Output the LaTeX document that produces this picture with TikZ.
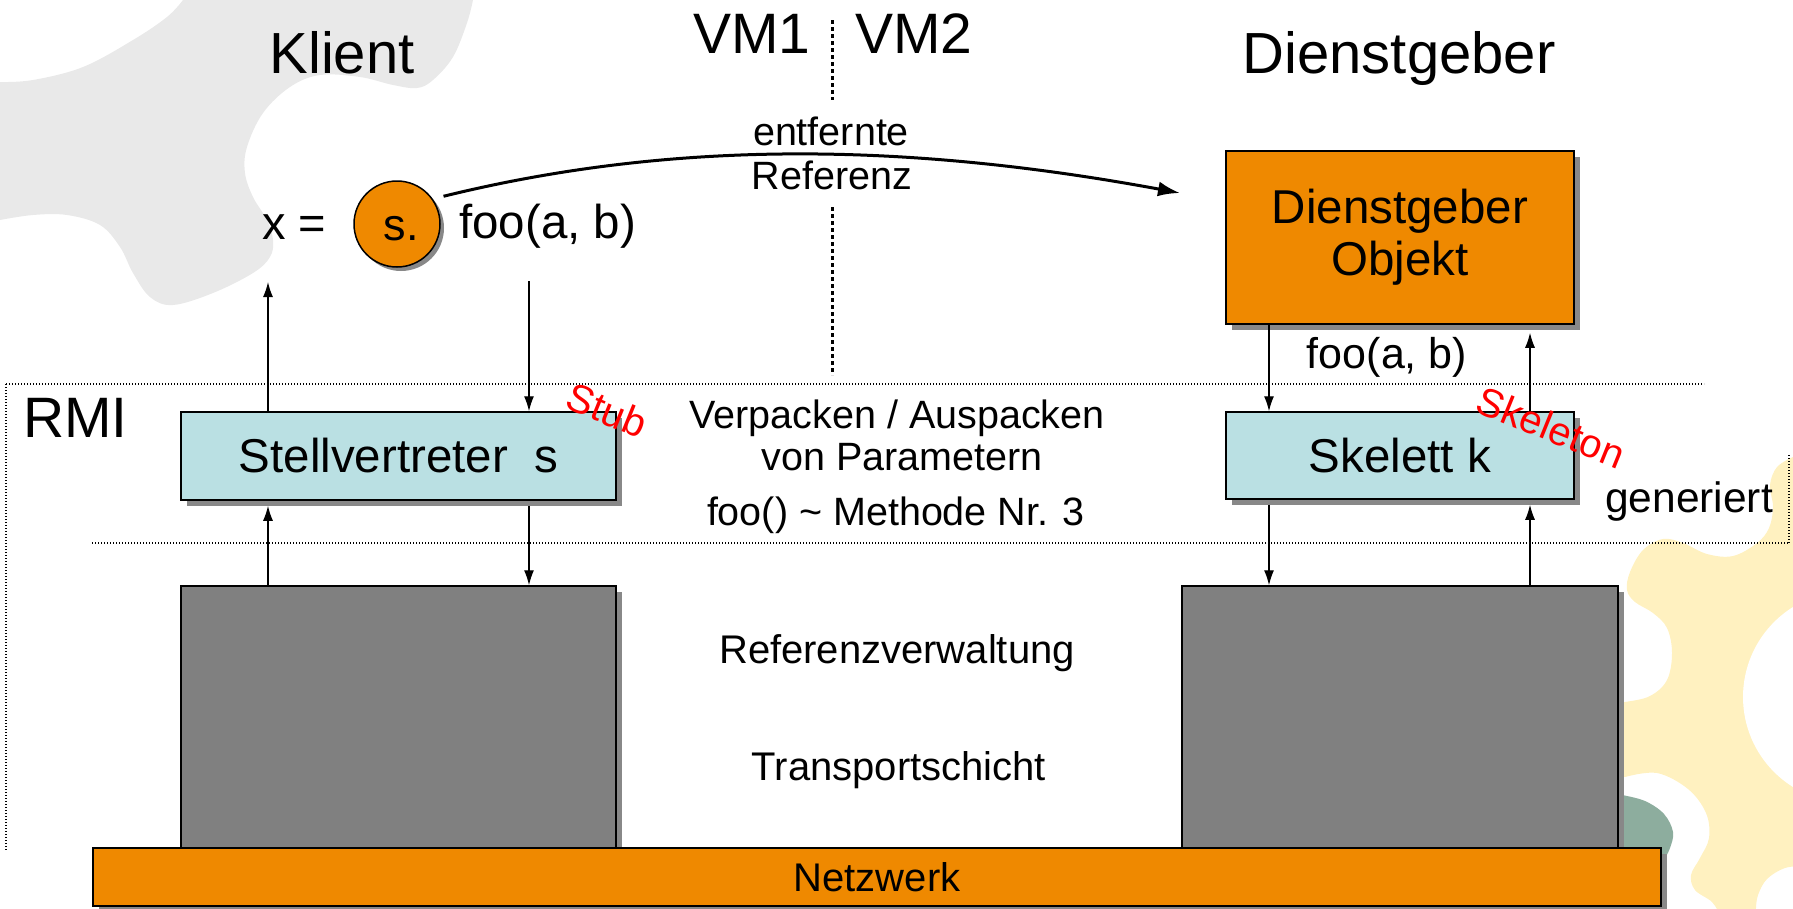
\documentclass[tikz,border=0pt]{standalone}
\usepackage{fontspec}
\setmainfont{Liberation Sans}
\usetikzlibrary{arrows.meta,shadows}
\definecolor{orng}{RGB}{239,137,0}
\definecolor{lblue}{RGB}{186,224,227}
\definecolor{boxgray}{RGB}{128,128,128}
\definecolor{shadowgray}{RGB}{136,136,136}
\definecolor{geargray}{RGB}{233,233,233}
\definecolor{gearyellow}{RGB}{255,241,192}
\definecolor{geargreen}{RGB}{141,173,158}
\definecolor{redtext}{RGB}{255,0,0}
\newcommand{\fsz}[1]{\fontsize{#1}{#1}\selectfont}
\begin{document}
\begin{tikzpicture}[x=1pt,y=-1pt,
  txt/.style={inner sep=0pt, text=black},
  box/.style={draw=black, line width=1.5pt, inner sep=0pt,
    drop shadow={shadow xshift=6pt, shadow yshift=-6pt, opacity=1, fill=shadowgray}},
  obox/.style={box, fill=orng},
  bbox/.style={box, fill=lblue},
  gbox/.style={box, fill=boxgray},
  arr/.style={line width=1.3pt, -{Latex[length=15pt,width=10pt]}},
  bigarr/.style={line width=3pt, -{Latex[length=22pt,width=15pt]}},
  rmidots/.style={line width=1.2pt, dash pattern=on 1.2pt off 1.8pt},
  vmdots/.style={line width=3pt, dash pattern=on 4pt off 3pt},
  redtxt/.style={txt, text=redtext, font={\fsz{40}}},
]
\useasboundingbox (0,0) rectangle (1793,908);
% background gears
\begin{scope}
\clip (0,0) rectangle (1793,908);
\fill[geargray] (-10,83) -- plot[smooth,tension=0.6] coordinates {(0,82) (33,80) (83,67) (133,40) (167,17) (183,0)}
  -- (185,-10) -- (475,-10)
  -- plot[smooth,tension=0.6] coordinates {(473,0) (467,23) (453,57) (433,80) (417,88) (393,85) (360,77) (320,75) (290,87) (263,113) (247,147) (245,173) (253,197) (267,220) (273,240) (270,257) (253,273) (213,293) (173,305) (150,297) (133,273) (120,247) (100,225) (67,215) (33,215) (0,220)}
  -- (-10,221) -- cycle;
\fill[gearyellow] (1805,455) -- plot[smooth,tension=0.6] coordinates {(1793,457) (1777,467) (1770,485) (1773,507) (1769,528) (1757,543) (1733,556) (1707,554) (1683,543) (1663,539) (1643,550) (1630,572) (1627,590) (1635,602) (1653,613) (1667,628) (1672,653) (1667,680) (1650,696) (1625,702) (1605,704)}
  -- (1605,776)
  -- plot[smooth,tension=0.6] coordinates {(1625,777) (1657,773) (1688,789) (1706,813) (1709,838) (1700,858) (1691,875) (1695,890) (1712,902) (1720,915)}
  -- (1755,915)
  -- plot[smooth,tension=0.6] coordinates {(1756,908) (1758,895) (1767,879) (1785,868) (1805,866)}
  -- cycle;
\fill[white] (1849,697) circle[radius=106pt];
\fill[geargreen] (1610,795) -- plot[smooth,tension=0.6] coordinates {(1622,795) (1645,801) (1664,814) (1673,832) (1670,848) (1664,860)} -- (1610,860) -- cycle;
\end{scope}
% dotted lines
\draw[rmidots] (6,384) -- (1704,384);
\draw[rmidots] (6,384) -- (6,850);
\draw[rmidots] (92,543) -- (1789,543);
\draw[rmidots] (1789,455) -- (1789,543);
\draw[vmdots] (832,20) -- (832,100);
\draw[vmdots] (832,207) -- (832,375);
% boxes
\node[gbox, minimum width=435pt, minimum height=262pt] (lgrey) at (398.5,717) {};
\node[gbox, minimum width=436pt, minimum height=262pt] (rgrey) at (1400,717) {};
\node[obox, minimum width=1568pt, minimum height=58pt, font={\fsz{40}}] (netz) at (877,877) {Netzwerk};
\node[bbox, minimum width=435pt, minimum height=88pt, font={\fsz{47.5}}] (stell) at (398.5,456) {Stellvertreter\ \ s};
\node[bbox, minimum width=348pt, minimum height=87pt, font={\fsz{47.5}}] (skel) at (1400,455.5) {Skelett k};
\node[obox, minimum width=348pt, minimum height=173pt, align=center, font={\fontsize{47.5}{52}\selectfont}] (dobj) at (1400,237.5) {Dienstgeber\\Objekt};
\node[circle, draw=black, line width=1.5pt, fill=orng, minimum size=86pt, inner sep=0pt,
  drop shadow={shadow xshift=4pt, shadow yshift=-4pt, opacity=1, fill=shadowgray},
  font={\fsz{45}}] (s) at (397,224) {\raisebox{-16pt}[0pt][0pt]{\hspace{8pt}s.}};
% titles and labels
\node[txt, anchor=base, font={\fsz{58}}] (klient) at (342,73) {Klient};
\node[txt, anchor=base, font={\fsz{57}}] (vm1) at (752,53) {VM1};
\node[txt, anchor=base, font={\fsz{57}}] (vm2) at (914,53) {VM2};
\node[txt, anchor=base, font={\fsz{58}}] (dtitle) at (1399,73) {Dienstgeber};
\node[txt, anchor=base, font={\fsz{39.5}}] (entf) at (831,145) {entfernte};
\node[txt, anchor=base, font={\fsz{39.5}}] (refz) at (832,189) {Referenz};
\node[txt, anchor=base west, font={\fsz{47}}] (xeq) at (262,239) {x =};
\node[txt, anchor=base west, font={\fsz{47.5}}] (foocl) at (459,238) {foo(a, b)};
\node[txt, anchor=base, font={\fsz{43}}] (foosv) at (1387,368) {foo(a, b)};
\node[txt, anchor=base west, font={\fsz{57}}] (rmi) at (23,437) {RMI};
\node[txt, anchor=base, font={\fsz{39.5}}] (verp) at (897,428) {Verpacken / Auspacken};
\node[txt, anchor=base, font={\fsz{39.5}}] (vonp) at (902,470) {von Parametern};
\node[txt, anchor=base, font={\fsz{39.5}}] (meth) at (896,525) {foo() \char`\~{} Methode Nr. 3};
\node[txt, anchor=base west, font={\fsz{42.5}}] (gen) at (1605,512) {generiert};
\node[txt, anchor=base, font={\fsz{40}}] (refv) at (897,663) {Referenzverwaltung};
\node[txt, anchor=base, font={\fsz{40}}] (trans) at (899,780) {Transportschicht};
\node[redtxt, rotate=-22] (stub) at (607,410) {Stub};
\node[redtxt, rotate=-22] (skeleton) at (1551,427) {Skeleton};
% connectors
\coordinate (xa) at (268,282);
\coordinate (fa) at (529,281);
\coordinate (sa) at (1269,0);
\coordinate (sb) at (1530,0);
\coordinate (reftip) at (1180,193);
\draw[bigarr, shorten <=11pt] (s.35) .. controls (668,141) and (899,141) .. (reftip);
\draw[arr] (stell.north -| xa) -- (xa);
\draw[arr] (fa) -- (stell.north -| fa);
\draw[arr, shorten >=5pt] (lgrey.north -| xa) -- (stell.south -| xa);
\draw[arr, shorten <=5pt] (stell.south -| fa) -- (lgrey.north -| fa);
\draw[arr] (dobj.south -| sa) -- (skel.north -| sa);
\draw[arr, shorten >=8pt] (skel.north -| sb) -- (dobj.south -| sb);
\draw[arr, shorten <=5pt] (skel.south -| sa) -- (rgrey.north -| sa);
\draw[arr, shorten >=5pt] (rgrey.north -| sb) -- (skel.south -| sb);
\end{tikzpicture}
\end{document}
